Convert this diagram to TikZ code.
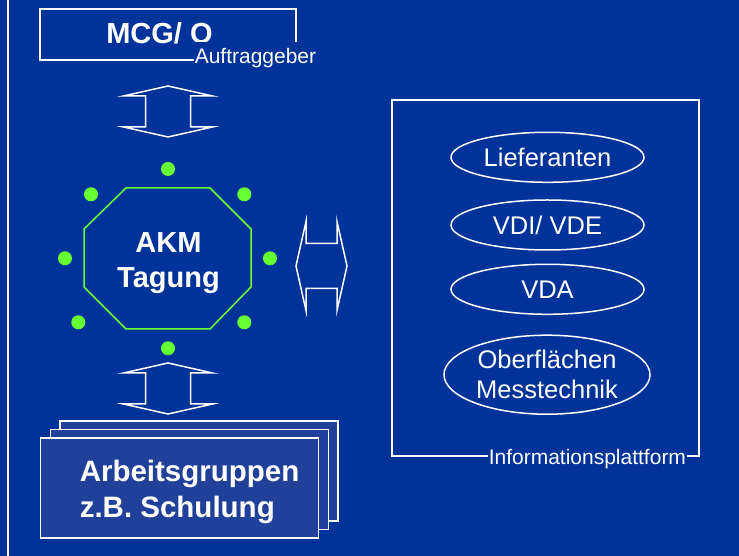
\documentclass[tikz,border=0pt]{standalone}
\usepackage{fontspec}
\setmainfont{Liberation Sans}
\usetikzlibrary{shapes.geometric,positioning}

\definecolor{hgblau}{RGB}{0,51,153}
\definecolor{boxblau}{RGB}{32,64,154}
\definecolor{punktgruen}{RGB}{102,255,51}

\begin{document}
\begin{tikzpicture}[x=1bp,y=1bp,line width=1.5bp]

    \tikzstyle{rahmen}=[draw=white]
    \tikzstyle{gross}=[text=white,font=\fontsize{29bp}{35bp}\selectfont\bfseries,inner sep=0pt]
    \tikzstyle{klein}=[text=white,font=\fontsize{21bp}{25bp}\selectfont,fill=hgblau,inner xsep=1bp,inner ysep=7bp]
    \tikzstyle{partner}=[ellipse,draw=white,text=white,align=center,inner sep=0pt,
                         font=\fontsize{25.5bp}{30bp}\selectfont,minimum width=193bp,minimum height=50bp]
    \tikzstyle{stapel}=[draw=white,fill=boxblau,minimum width=278bp,minimum height=100bp]
    \tikzstyle{pfeil}=[draw=white]
    \tikzstyle{punkt}=[fill=punktgruen]

    % Hintergrund
    \fill[hgblau] (0,0) rectangle (739,556);
    \useasboundingbox (0,0) rectangle (739,556);
    \draw[rahmen] (8,0) -- (8,556);

    % Auftraggeber
    \draw[rahmen] (40,496) rectangle (296,547);
    \node[gross,anchor=base]       (mcg)   at (159.5,512) {MCG/ Q};
    \node[klein,anchor=base west]  (auftr) at (193,492) {Auftraggeber};

    % AKM Tagung
    \draw[punktgruen] (126,368) -- (210,368) -- (251,327) -- (251,269)
        -- (210,227) -- (126,227) -- (84,269) -- (84,327) -- cycle;
    \node[gross,align=center] (akm) at (168.5,292.5) {AKM\\Tagung};
    \foreach \x/\y in {168/387, 91/361.7, 244.3/361.7, 65/297.7,
                       270/297.7, 78.3/233.7, 244.3/233.7, 168/207.7}
        \fill[punkt] (\x,\y) circle (7);

    % Arbeitsgruppen
    \node[stapel] (ag_3) at (199,85)    {};
    \node[stapel] (ag_2) at (189.5,76.5) {};
    \node[stapel] (ag_1) at (179.5,68)  {};
    \node[gross,align=left,anchor=west,
          font=\fontsize{29.5bp}{36bp}\selectfont\bfseries] (ag) at (79,64.5)
          {Arbeitsgruppen\\z.B. Schulung};

    % Informationsplattform
    \draw[rahmen] (392,100) rectangle (699,456);
    \node[klein,anchor=base west] (info) at (487,91) {Informationsplattform};
    \node[partner] (lief) at (547.5,398.7) {Lieferanten};
    \node[partner] (vdi)  at (547.5,331)   {VDI/ VDE};
    \node[partner] (vda)  at (547.5,266.7) {VDA};
    \node[partner,minimum width=206bp,minimum height=79bp] (omt) at (547,181.3)
          {Oberflächen\\Messtechnik};

    % Doppelpfeile
    \coordinate (p_oben)   at (168,444.5);
    \coordinate (p_unten)  at (168,167.5);
    \coordinate (p_rechts) at (321.5,290);
    \foreach \p/\r in {p_oben/0, p_unten/0, p_rechts/90}
        \draw[pfeil,shift={(\p)},rotate=\r] (0,25.5) -- (-44.5,15.5) -- (-22.5,15.5)
            -- (-22.5,-15.5) -- (-44.5,-15.5) -- (0,-25.5) -- (44.5,-15.5)
            -- (22.5,-15.5) -- (22.5,15.5) -- (44.5,15.5) -- cycle;

\end{tikzpicture}
\end{document}
